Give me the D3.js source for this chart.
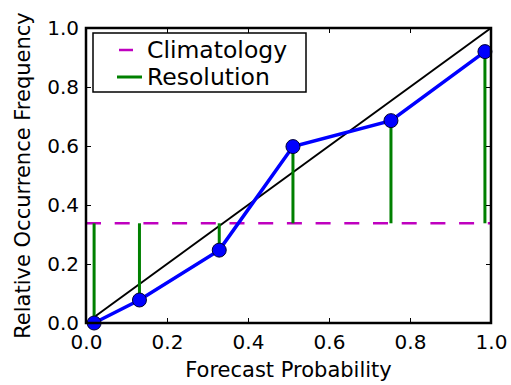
<!DOCTYPE html>
<html>
<head>
<meta charset="utf-8">
<script src="https://cdn.jsdelivr.net/npm/d3@7"></script>
<style>
  body { margin: 0; background: #fff; }
  text { font-family: "DejaVu Sans", sans-serif; }
</style>
</head>
<body>
<div id="chart"></div>
<script>
// reliability diagram data
const forecastProb = [0.02, 0.132, 0.329, 0.511, 0.753, 0.985];
const occurrenceFreq = [0.0, 0.078, 0.247, 0.598, 0.686, 0.92];
const climatology = 0.338;
const ticks = [0.0, 0.2, 0.4, 0.6, 0.8, 1.0];
const legendItems = ['Climatology', 'Resolution'];

const width = 511;
const height = 385;
const margin = { top: 28, right: 20, bottom: 62, left: 86 };

const svg = d3.select('#chart').append('svg')
  .attr('width', width)
  .attr('height', height);

const x = d3.scaleLinear().domain([0, 1])
  .range([margin.left, width - margin.right]);
const y = d3.scaleLinear().domain([0, 1])
  .range([height - margin.bottom, margin.top]);

const pts = forecastProb.map((p, i) => ({ p: p, f: occurrenceFreq[i] }));

// perfect reliability diagonal
svg.append('line')
  .attr('x1', x(0)).attr('y1', y(0))
  .attr('x2', x(1)).attr('y2', y(1))
  .attr('stroke', 'black')
  .attr('stroke-width', 2);

// climatology
svg.append('line')
  .attr('x1', x(0)).attr('x2', x(1))
  .attr('y1', y(climatology)).attr('y2', y(climatology))
  .attr('stroke', '#bf00bf')
  .attr('stroke-width', 2.5)
  .attr('stroke-dasharray', '15,13.7');

// resolution bars
svg.selectAll('.res')
  .data(pts)
  .enter().append('line')
  .attr('class', 'res')
  .attr('x1', d => x(d.p)).attr('x2', d => x(d.p))
  .attr('y1', y(climatology)).attr('y2', d => y(d.f))
  .attr('stroke', 'green')
  .attr('stroke-width', 3);

// reliability curve
const line = d3.line()
  .x(d => x(d.p))
  .y(d => y(d.f));

svg.append('path')
  .datum(pts)
  .attr('fill', 'none')
  .attr('stroke', 'blue')
  .attr('stroke-width', 3.5)
  .attr('d', line);

svg.selectAll('.pt')
  .data(pts)
  .enter().append('circle')
  .attr('class', 'pt')
  .attr('cx', d => x(d.p))
  .attr('cy', d => y(d.f))
  .attr('r', 7)
  .attr('fill', 'blue')
  .attr('stroke', '#000033')
  .attr('stroke-width', 1);

// axes with inward ticks on all four sides
const xAxis = d3.axisBottom(x).tickValues(ticks).tickFormat(d3.format('.1f'))
  .tickSizeInner(-5).tickSizeOuter(0).tickPadding(12);
const yAxis = d3.axisLeft(y).tickValues(ticks).tickFormat(d3.format('.1f'))
  .tickSizeInner(-5).tickSizeOuter(0).tickPadding(7);

svg.append('g')
  .attr('transform', `translate(0,${height - margin.bottom})`)
  .call(xAxis);
svg.append('g')
  .attr('transform', `translate(${margin.left},0)`)
  .call(yAxis);

svg.append('g')
  .attr('transform', `translate(0,${margin.top})`)
  .call(d3.axisTop(x).tickValues(ticks).tickFormat('').tickSizeInner(-5).tickSizeOuter(0));
svg.append('g')
  .attr('transform', `translate(${width - margin.right},0)`)
  .call(d3.axisRight(y).tickValues(ticks).tickFormat('').tickSizeInner(-5).tickSizeOuter(0));

svg.selectAll('.domain').remove();
svg.selectAll('.tick line').attr('stroke', 'black');
svg.selectAll('.tick text')
  .attr('font-family', '"DejaVu Sans", sans-serif')
  .attr('font-size', 20)
  .attr('fill', 'black');

// frame
svg.append('rect')
  .attr('x', x(0)).attr('y', y(1))
  .attr('width', x(1) - x(0))
  .attr('height', y(0) - y(1))
  .attr('fill', 'none')
  .attr('stroke', 'black')
  .attr('stroke-width', 2.5);

// axis labels
svg.append('text')
  .attr('x', (x(0) + x(1)) / 2)
  .attr('y', 377)
  .attr('text-anchor', 'middle')
  .attr('font-size', 21)
  .text('Forecast Probability');

svg.append('text')
  .attr('transform', `translate(30,${(y(0) + y(1)) / 2}) rotate(-90)`)
  .attr('text-anchor', 'middle')
  .attr('font-size', 21)
  .text('Relative Occurrence Frequency');

// legend
const lg = svg.append('g').attr('transform', 'translate(93,33)');
lg.append('rect')
  .attr('width', 213).attr('height', 59)
  .attr('fill', 'white')
  .attr('stroke', 'black')
  .attr('stroke-width', 1.5);

const legendStyles = [
  { color: '#bf00bf', dash: '14,14', width: 2.5 },
  { color: 'green', dash: null, width: 3 }
];
legendItems.forEach((name, i) => {
  const yy = 17 + i * 27;
  lg.append('line')
    .attr('x1', 24 + (i === 0 ? 2 : 0)).attr('x2', 49)
    .attr('y1', yy).attr('y2', yy)
    .attr('stroke', legendStyles[i].color)
    .attr('stroke-width', legendStyles[i].width)
    .attr('stroke-dasharray', legendStyles[i].dash);
  lg.append('text')
    .attr('x', 54).attr('y', yy + 7.5)
    .attr('font-size', 23.5)
    .text(name);
});
</script>
</body>
</html>
